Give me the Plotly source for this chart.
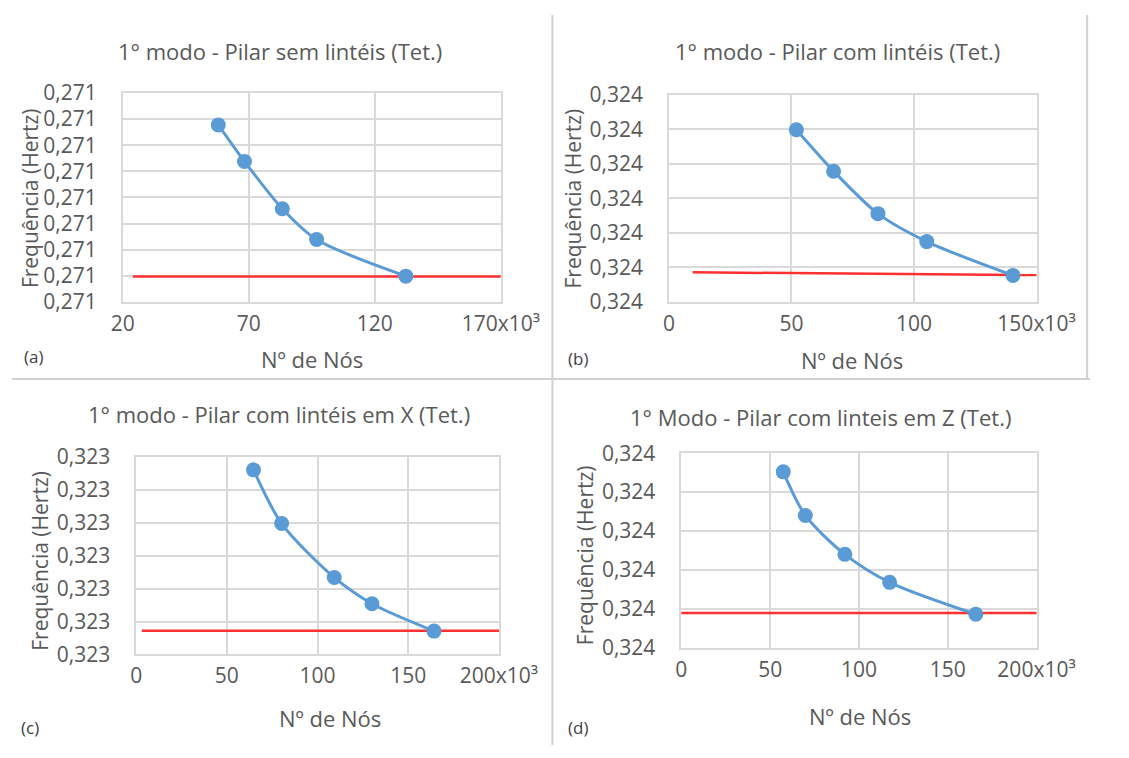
import plotly.graph_objects as go

W, H = 1129, 758

# ---------------- data ----------------
titles = [
    "1° modo - Pilar sem lintéis (Tet.)",
    "1° modo - Pilar com lintéis (Tet.)",
    "1° modo - Pilar com lintéis em X (Tet.)",
    "1° Modo - Pilar com linteis em Z (Tet.)",
]
panel_letters = ["(a)", "(b)", "(c)", "(d)"]
x_title = "Nº de Nós"
y_title = "Frequência (Hertz)"

# number of nodes (x10^3)
nodes_a = [57.9, 68.3, 83.3, 96.9, 132.3]
nodes_b = [52.0, 67.2, 85.3, 105.2, 140.4]
nodes_c = [64.7, 80.2, 109.2, 130.0, 164.2]
nodes_d = [57.4, 69.8, 92.1, 117.3, 165.8]

# frequency (Hz)
freq_a = [0.2710678, 0.2710538, 0.2710357, 0.2710239, 0.2710099]
freq_b = [0.3240499, 0.3240379, 0.3240256, 0.3240175, 0.3240077]
freq_c = [0.3230561, 0.3230398, 0.3230234, 0.3230154, 0.3230071]
freq_d = [0.3240452, 0.3240340, 0.3240240, 0.3240168, 0.3240086]

# red reference (converged) lines
ref_x_a = [24, 170]
ref_y_a = [0.2710098, 0.2710098]
ref_x_b = [9.7, 151]
ref_y_b = [0.3240086, 0.3240078]
ref_x_c = [3.2, 206]
ref_y_c = [0.3230072, 0.3230072]
ref_x_d = [-5, 201]
ref_y_d = [0.3240089, 0.3240089]

# axes
x_range_a = [20, 170]
x_range_b = [0, 150]
x_range_c = [0, 200]
x_range_d = [0, 200]
x_tickvals_a = [20, 70, 120, 170]
x_ticktext_a = ["20", "70", "120", "170x10³"]
x_tickvals_b = [0, 50, 100, 150]
x_ticktext_b = ["0", "50", "100", "150x10³"]
x_tickvals_c = [0, 50, 100, 150, 200]
x_ticktext_c = ["0", "50", "100", "150", "200x10³"]
x_tickvals_d = [0, 50, 100, 150, 200]
x_ticktext_d = ["0", "50", "100", "150", "200x10³"]

y_range_a = [0.27100, 0.27108]
y_range_b = [0.32400, 0.32406]
y_range_c = [0.32300, 0.32306]
y_range_d = [0.32400, 0.32405]
y_step = 0.00001

# ---------------- layout (pixels) ----------------
domains_px = [
    ((116, 512), (81, 298)),
    ((688, 1073), (83, 298)),
    ((130, 510), (459, 664)),
    ((701, 1073), (455, 657)),
]
title_pos = [(281, 37), (865, 37), (280, 414), (847, 417)]
xtitle_pos = [(314, 357), (880, 358), (333, 730), (888, 728)]
ytitle_pos = [(19, 190), (587, 190), (29, 567), (600, 561)]
letter_pos = [(22, 355), (593, 357), (19, 740), (593, 740)]

FONT = "Open Sans, Lato, sans-serif"
GREY = "#595959"
GRID = "#D9D9D9"
BLUE = "#5B9BD5"
RED = "#FF3030"


def px_x(x):
    return x / W


def px_y(y):
    return 1 - y / H


panels = [
    (nodes_a, freq_a, ref_x_a, ref_y_a, x_range_a, x_tickvals_a, x_ticktext_a, y_range_a),
    (nodes_b, freq_b, ref_x_b, ref_y_b, x_range_b, x_tickvals_b, x_ticktext_b, y_range_b),
    (nodes_c, freq_c, ref_x_c, ref_y_c, x_range_c, x_tickvals_c, x_ticktext_c, y_range_c),
    (nodes_d, freq_d, ref_x_d, ref_y_d, x_range_d, x_tickvals_d, x_ticktext_d, y_range_d),
]

fig = go.Figure()
annotations = []
layout_axes = {}

for i, (xs, ys, rx, ry, xr, xtv, xtt, yr) in enumerate(panels):
    n = "" if i == 0 else str(i + 1)
    xa, ya = "x" + n, "y" + n
    fig.add_trace(go.Scatter(
        x=rx, y=ry, mode="lines", xaxis=xa, yaxis=ya,
        line=dict(color=RED, width=2.5), showlegend=False, hoverinfo="skip",
    ))
    fig.add_trace(go.Scatter(
        x=xs, y=ys, mode="lines+markers", xaxis=xa, yaxis=ya,
        line=dict(color=BLUE, width=3, shape="spline", smoothing=0.8),
        marker=dict(color=BLUE, size=15), showlegend=False,
    ))
    (x0, x1), (y0, y1) = domains_px[i]
    nsteps = int(round((yr[1] - yr[0]) / y_step))
    ytv = [yr[0] + k * y_step for k in range(nsteps + 1)]
    layout_axes["xaxis" + n] = dict(
        domain=[px_x(x0), px_x(x1)], anchor=ya, range=xr,
        tickvals=xtv, ticktext=xtt, showgrid=True, gridcolor=GRID, gridwidth=1.5,
        showline=True, linecolor=GRID, linewidth=1.5, mirror=True, zeroline=False,
        tickfont=dict(family=FONT, size=21, color=GREY), ticklabelstandoff=2,
        fixedrange=True,
    )
    layout_axes["yaxis" + n] = dict(
        domain=[px_y(y1), px_y(y0)], anchor=xa, range=yr,
        tickvals=ytv, tickformat=".3f", showgrid=True, gridcolor=GRID, gridwidth=1.5,
        showline=True, linecolor=GRID, linewidth=1.5, mirror=True, zeroline=False,
        tickfont=dict(family=FONT, size=21, color=GREY), ticklabelstandoff=20,
        fixedrange=True,
    )
    tx, ty = title_pos[i]
    annotations.append(dict(text=titles[i], x=px_x(tx), y=px_y(ty), xref="paper", yref="paper",
                            showarrow=False, xanchor="center", yanchor="middle",
                            font=dict(family=FONT, size=22, color=GREY)))
    tx, ty = xtitle_pos[i]
    annotations.append(dict(text=x_title, x=px_x(tx), y=px_y(ty), xref="paper", yref="paper",
                            showarrow=False, xanchor="center", yanchor="middle",
                            font=dict(family=FONT, size=22, color=GREY)))
    tx, ty = ytitle_pos[i]
    annotations.append(dict(text=y_title, x=px_x(tx), y=px_y(ty), xref="paper", yref="paper",
                            showarrow=False, xanchor="center", yanchor="middle", textangle=-90,
                            font=dict(family=FONT, size=21, color=GREY)))
    tx, ty = letter_pos[i]
    annotations.append(dict(text=panel_letters[i], x=px_x(tx), y=px_y(ty), xref="paper", yref="paper",
                            showarrow=False, xanchor="center", yanchor="middle",
                            font=dict(family=FONT, size=17, color="#404040")))

shapes = [
    dict(type="line", xref="paper", yref="paper", x0=px_x(566), x1=px_x(566), y0=0, y1=1,
         line=dict(color="#D0D0D0", width=2)),
    dict(type="line", xref="paper", yref="paper", x0=0, x1=1, y0=px_y(378), y1=px_y(378),
         line=dict(color="#D0D0D0", width=2)),
    dict(type="line", xref="paper", yref="paper", x0=px_x(1126), x1=px_x(1126), y0=px_y(378), y1=1,
         line=dict(color="#D0D0D0", width=2)),
]

fig.update_layout(
    width=W, height=H, margin=dict(l=0, r=0, t=0, b=0),
    paper_bgcolor="white", plot_bgcolor="white",
    separators=",.", annotations=annotations, shapes=shapes,
    font=dict(family=FONT, color=GREY),
    **layout_axes,
)

fig.write_html("out.html")
